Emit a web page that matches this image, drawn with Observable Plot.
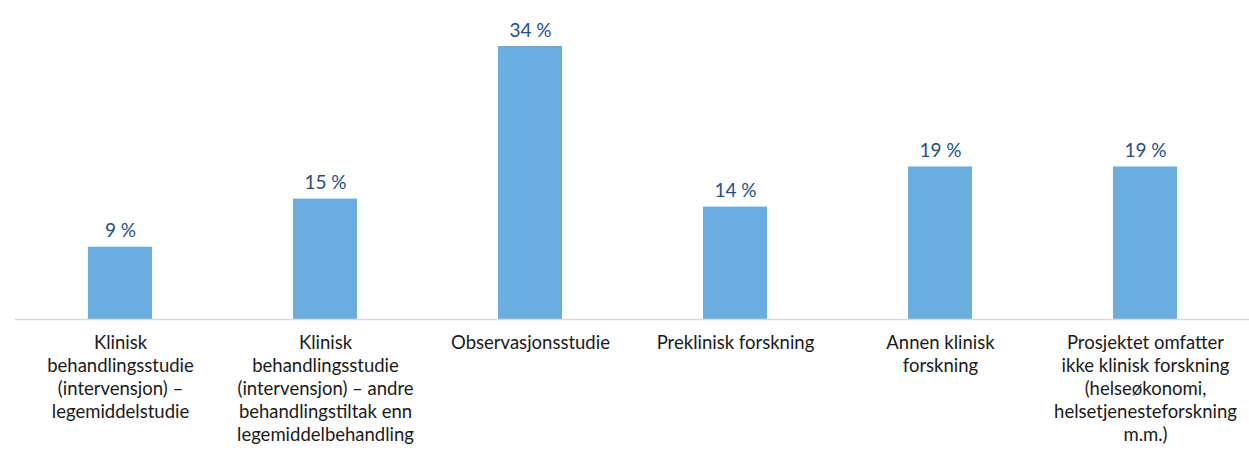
<!DOCTYPE html>
<html>
<head>
<meta charset="utf-8">
<script src="https://cdn.jsdelivr.net/npm/d3@7"></script>
<script src="https://cdn.jsdelivr.net/npm/@observablehq/plot@0.6"></script>
<style>
  html, body { margin: 0; padding: 0; background: #fff; }
  #chart svg { display: block; }
</style>
</head>
<body>
<div id="chart"></div>
<script>
const categories = [
  "Klinisk behandlingsstudie (intervensjon) – legemiddelstudie",
  "Klinisk behandlingsstudie (intervensjon) – andre behandlingstiltak enn legemiddelbehandling",
  "Observasjonsstudie",
  "Preklinisk forskning",
  "Annen klinisk forskning",
  "Prosjektet omfatter ikke klinisk forskning (helseøkonomi, helsetjenesteforskning m.m.)"
];
const tickLabels = [
  "Klinisk\nbehandlingsstudie\n(intervensjon) –\nlegemiddelstudie",
  "Klinisk\nbehandlingsstudie\n(intervensjon) – andre\nbehandlingstiltak enn\nlegemiddelbehandling",
  "Observasjonsstudie",
  "Preklinisk forskning",
  "Annen klinisk\nforskning",
  "Prosjektet omfatter\nikke klinisk forskning\n(helseøkonomi,\nhelsetjenesteforskning\nm.m.)"
];
const values = [9, 15, 34, 14, 19, 19];

const data = categories.map((c, i) => ({category: c, value: values[i], label: tickLabels[i]}));
const labelOf = new Map(categories.map((c, i) => [c, tickLabels[i]]));

const chart = Plot.plot({
  width: 1249,
  height: 458,
  marginLeft: 15,
  marginRight: 0,
  marginTop: 46,
  marginBottom: 139,
  style: {fontFamily: "Lato, 'Open Sans', sans-serif", background: "#fff"},
  x: {domain: categories, paddingInner: 0.69, paddingOuter: 0.345, label: null},
  y: {domain: [0, 34], label: null, axis: null},
  marks: [
    Plot.barY(data, {x: "category", y: "value", fill: "#6aaee0"}),
    Plot.ruleY([0], {stroke: "#d9d9d9", strokeWidth: 1.5}),
    Plot.text(data, {
      x: "category", y: "value",
      text: d => `${d.value} %`,
      dy: -16, fill: "#1f4e8c", fontSize: 19, fontWeight: 400
    }),
    Plot.axisX({
      tickSize: 0,
      tickPadding: 13,
      tickFormat: d => labelOf.get(d),
      fontSize: 18.5,
      lineHeight: 1.25,
      fill: "#1a1a1a",
      label: null
    })
  ]
});
document.getElementById("chart").appendChild(chart);
</script>
</body>
</html>
